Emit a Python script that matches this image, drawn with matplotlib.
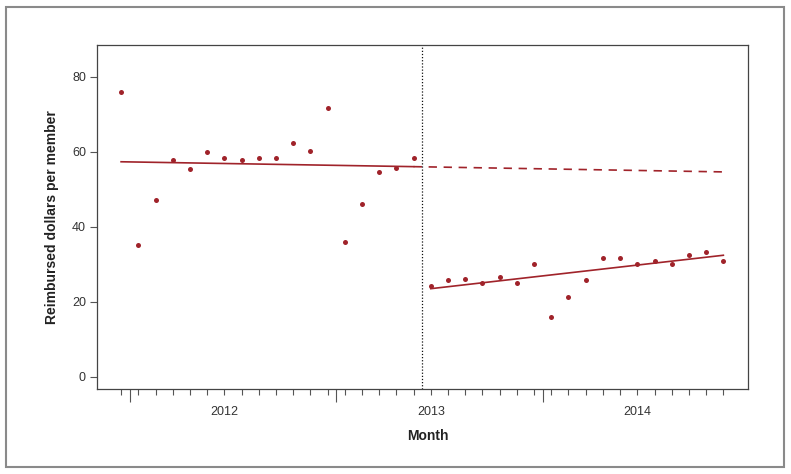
import matplotlib
matplotlib.use("Agg")
import matplotlib.pyplot as plt
import matplotlib.transforms as mtransforms
from matplotlib.patches import Rectangle

plt.rcParams['font.family'] = ['Liberation Sans', 'DejaVu Sans']

# Monthly reimbursed dollars per member (36 months)
pre_values = [76.0, 35.0, 47.0, 57.8, 55.3, 59.9, 58.4, 57.8, 58.3,
              58.4, 62.3, 60.1, 71.5, 35.9, 46.1, 54.7, 55.7, 58.2]
post_values = [24.1, 25.7, 26.1, 25.1, 26.6, 25.1, 30.0, 16.0, 21.3,
               25.8, 31.8, 31.8, 30.2, 30.8, 30.1, 32.5, 33.3, 30.8]

# Fitted segments (month index, value)
pre_fit_x = [0, 17]
pre_fit_y = [57.3, 56.0]
counterfactual_x = [17, 35]
counterfactual_y = [56.0, 54.6]
post_fit_x = [18, 35]
post_fit_y = [23.5, 32.4]

break_index = 17.5
year_labels = ['2012', '2013', '2014']
year_label_pos = [6, 18, 30]
year_boundaries = [0.5, 12.5, 24.5]
y_ticks = [0, 20, 40, 60, 80]

red = '#A0232A'

fig = plt.figure(figsize=(7.91, 4.74), dpi=100)
ax = fig.add_axes([97/791, 1-389.3/474, (748.3-97)/791, (389.3-45)/474])

n_pre = len(pre_values)
x_pre = list(range(n_pre))
x_post = list(range(n_pre, n_pre + len(post_values)))

ax.plot(x_pre, pre_values, 'o', color=red, markersize=3.6, markeredgewidth=0)
ax.plot(x_post, post_values, 'o', color=red, markersize=3.6, markeredgewidth=0)
ax.plot(pre_fit_x, pre_fit_y, '-', color=red, linewidth=1.2)
ax.plot(counterfactual_x, counterfactual_y, '--', color=red, linewidth=1.2,
        dashes=(5, 4))
ax.plot(post_fit_x, post_fit_y, '-', color=red, linewidth=1.2)
ax.axvline(break_index, color='#111111', linestyle=(0, (1, 1.5)), linewidth=0.9)

ax.set_xlim(-1.4, 36.45)
ax.set_ylim(-3.3, 88.4)

ax.set_yticks(y_ticks)
ax.set_yticklabels([str(v) for v in y_ticks])
ax.tick_params(axis='y', length=5, width=0.8, color='#555555',
               labelcolor='#333333', labelsize=9, pad=3)

ax.set_xticks(year_boundaries)
ax.set_xticklabels([])
ax.set_xticks(x_pre + x_post, minor=True)
ax.tick_params(axis='x', which='major', length=9, width=0.8, color='#555555')
ax.tick_params(axis='x', which='minor', length=4, width=0.8, color='#555555')

trans = mtransforms.blended_transform_factory(ax.transData, ax.transAxes)
for lab, pos in zip(year_labels, year_label_pos):
    ax.text(pos, -0.065, lab, transform=trans, ha='center', va='center',
            fontsize=9, color='#333333')

for s in ax.spines.values():
    s.set_color('#444444')
    s.set_linewidth(0.9)

ax.set_ylabel('Reimbursed dollars per member', fontsize=10,
              fontweight='bold', color='#222222', labelpad=9.5)
fig.text(428/791, 1-436/474, 'Month', ha='center', va='center',
         fontsize=10, fontweight='bold', color='#222222')

fig.patches.append(Rectangle((6.5/791, 1-466.5/474), (784-6.5)/791,
                             (466.5-6.5)/474, transform=fig.transFigure,
                             fill=False, edgecolor='#8a8a8a', linewidth=1.5))

fig.savefig('out.png', dpi=100)
